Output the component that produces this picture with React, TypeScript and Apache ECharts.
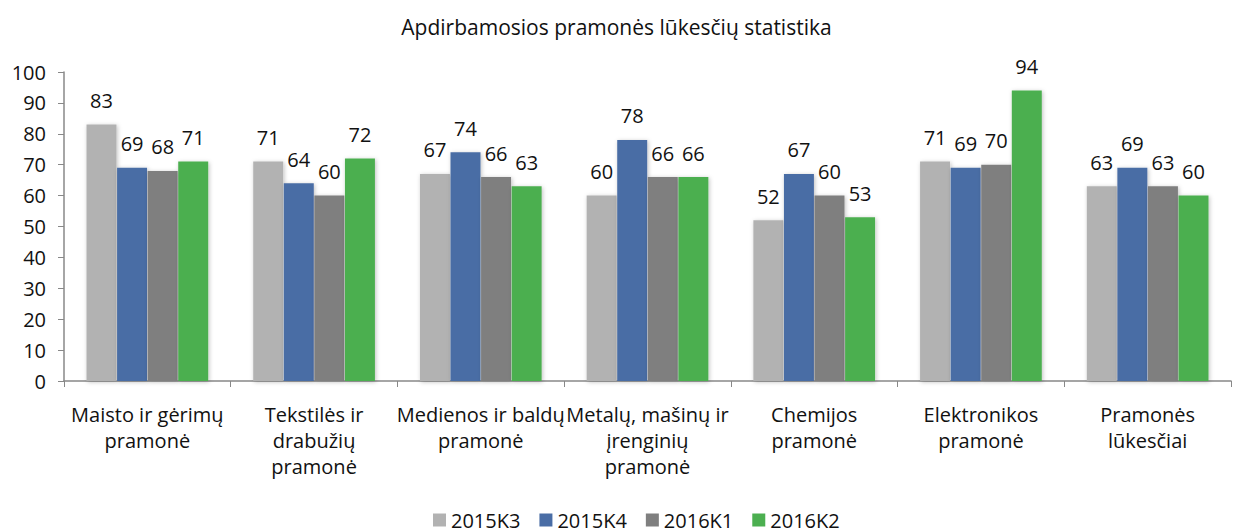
import React, { useEffect, useRef } from "react";
import * as echarts from "echarts";

const categories = [
  "Maisto ir gėrimų\npramonė",
  "Tekstilės ir\ndrabužių\npramonė",
  "Medienos ir baldų\npramonė",
  "Metalų, mašinų ir\nįrenginių\npramonė",
  "Chemijos\npramonė",
  "Elektronikos\npramonė",
  "Pramonės\nlūkesčiai",
];
const seriesNames = ["2015K3", "2015K4", "2016K1", "2016K2"];
const s2015K3 = [83, 71, 67, 60, 52, 71, 63];
const s2015K4 = [69, 64, 74, 78, 67, 69, 69];
const s2016K1 = [68, 60, 66, 66, 60, 70, 63];
const s2016K2 = [71, 72, 63, 66, 53, 94, 60];
const colors = ["#b2b2b2", "#4a6da5", "#7f7f7f", "#4caf50"];

const FONT = "'Open Sans', 'Noto Sans', sans-serif";

export default function App() {
  const ref = useRef<HTMLDivElement>(null);
  useEffect(() => {
    const chart = echarts.init(ref.current!, null, { renderer: "svg" });
    const data = [s2015K3, s2015K4, s2016K1, s2016K2];
    chart.setOption({
      animation: false,
      textStyle: { fontFamily: FONT },
      title: {
        text: "Apdirbamosios pramonės lūkesčių statistika",
        left: "center",
        top: 11,
        textStyle: { fontFamily: FONT, fontSize: 21, fontWeight: "normal", color: "#111" },
      },
      legend: {
        bottom: -3,
        left: 428,
        itemWidth: 13,
        itemHeight: 13,
        itemGap: 19,
        icon: "rect",
        textStyle: { fontFamily: FONT, fontSize: 20, color: "#111" },
        data: seriesNames,
      },
      grid: { left: 64, right: 2, top: 72, bottom: 151 },
      xAxis: {
        type: "category",
        data: categories,
        axisLine: { lineStyle: { color: "#888", width: 1.5 } },
        axisTick: { show: true, length: 6, lineStyle: { color: "#888" } },
        axisLabel: {
          interval: 0,
          margin: 20,
          fontSize: 20,
          lineHeight: 26,
          color: "#111",
          fontFamily: FONT,
        },
      },
      yAxis: {
        type: "value",
        min: 0,
        max: 100,
        interval: 10,
        splitLine: { show: false },
        axisLine: { show: true, lineStyle: { color: "#888", width: 1.5 } },
        axisTick: { show: true, length: 6, lineStyle: { color: "#888" } },
        axisLabel: { fontSize: 20, color: "#111", margin: 18, fontFamily: FONT },
      },
      series: seriesNames.map((name, i) => ({
        name,
        type: "bar",
        data: data[i],
        barGap: "2%",
        barCategoryGap: "27%",
        itemStyle: {
          color: colors[i],
          shadowBlur: 4,
          shadowColor: "rgba(0,0,0,0.25)",
          shadowOffsetX: 1,
          shadowOffsetY: 1,
        },
        label: {
          show: true,
          position: "top",
          distance: 14,
          fontSize: 20,
          color: "#111",
          fontFamily: FONT,
        },
      })),
    });
    return () => chart.dispose();
  }, []);
  return (
    <div
      ref={ref}
      style={{ position: "fixed", left: 0, top: 0, width: 1233, height: 532, background: "#fff" }}
    />
  );
}
